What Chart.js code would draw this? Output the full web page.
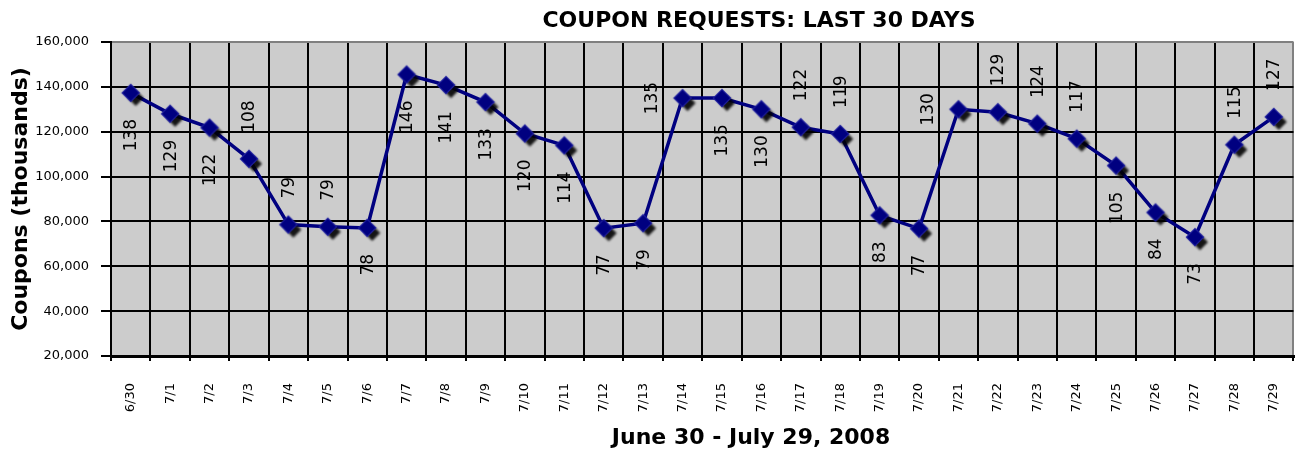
<!DOCTYPE html>
<html>
<head>
<meta charset="utf-8">
<title>Coupon requests</title>
<script src="https://cdn.jsdelivr.net/npm/chart.js@4.4.0/dist/chart.umd.min.js"></script>
<style>
  html, body { margin: 0; padding: 0; background: #fff; }
  #wrap { width: 1307px; height: 453px; }
</style>
</head>
<body>
<div id="wrap"><canvas id="couponChart" width="1307" height="453"></canvas></div>
<script>
// days on the x axis
const days = ['6/30', '7/1', '7/2', '7/3', '7/4', '7/5', '7/6', '7/7', '7/8', '7/9',
  '7/10', '7/11', '7/12', '7/13', '7/14', '7/15', '7/16', '7/17', '7/18', '7/19',
  '7/20', '7/21', '7/22', '7/23', '7/24', '7/25', '7/26', '7/27', '7/28', '7/29'];

// coupon requests per day
const coupons = [137300, 128000, 121800, 107900, 78600, 77600, 77100, 145500, 140800, 133200,
  119200, 113900, 77000, 79200, 135000, 135000, 130000, 122000, 119000, 82700,
  76800, 130000, 128700, 123600, 116900, 104900, 84000, 73000, 114200, 126600];

// data label texts, in thousands, as printed on the chart
const valueLabels = [138, 129, 122, 108, 79, 79, 78, 146, 141, 133,
  120, 114, 77, 79, 135, 135, 130, 122, 119, 83,
  77, 130, 129, 124, 117, 105, 84, 73, 115, 127];

// y axis range
const yMin = 20000;
const yMax = 160000;
const yStep = 20000;

const chartTitle = 'COUPON REQUESTS: LAST 30 DAYS';
const xTitle = 'June 30 - July 29, 2008';
const yTitle = 'Coupons (thousands)';

// where each data label sits relative to its point
const labelPlacement = ['below', 'below', 'below', 'above', 'above', 'above', 'below', 'below', 'below', 'below',
  'below', 'below', 'below', 'below', 'left', 'below', 'below', 'above', 'above', 'below',
  'below', 'left', 'above', 'above', 'above', 'below', 'below', 'below', 'above', 'above'];

const FONT = '"DejaVu Sans", Verdana, sans-serif';
const NAVY = '#000080';
const PLOT_BG = '#cccccc';
const EDGE_GRAY = '#808080';

function makeMarker() {
  const c = document.createElement('canvas');
  c.width = 40;
  c.height = 40;
  const g = c.getContext('2d');
  const diamond = (cx, cy, r) => {
    g.beginPath();
    g.moveTo(cx, cy - r);
    g.lineTo(cx + r, cy);
    g.lineTo(cx, cy + r);
    g.lineTo(cx - r, cy);
    g.closePath();
    g.fill();
  };
  // drop shadow
  g.save();
  g.filter = 'blur(1.2px)';
  g.fillStyle = 'rgba(0,0,0,0.9)';
  diamond(25, 25, 8);
  g.restore();
  // marker
  g.save();
  g.filter = 'blur(0.6px)';
  g.fillStyle = '#2222a0';
  diamond(20, 20, 9.5);
  g.restore();
  g.fillStyle = NAVY;
  diamond(20, 20, 8);
  return c;
}

const plotBackground = {
  id: 'plotBackground',
  beforeDraw(chart) {
    const { ctx, chartArea: a } = chart;
    ctx.save();
    ctx.fillStyle = PLOT_BG;
    ctx.fillRect(a.left, a.top, a.right - a.left, a.bottom - a.top);
    ctx.restore();
  }
};

const pointLabels = {
  id: 'pointLabels',
  beforeDatasetsDraw(chart) {
    const { ctx, chartArea: a } = chart;
    const meta = chart.getDatasetMeta(0);
    const gap = 26;
    ctx.save();
    ctx.beginPath();
    ctx.rect(a.left, a.top, a.right - a.left, a.bottom - a.top);
    ctx.clip();
    ctx.font = '17px ' + FONT;
    ctx.fillStyle = '#000';
    ctx.textAlign = 'center';
    ctx.textBaseline = 'middle';
    meta.data.forEach((pt, i) => {
      const text = String(valueLabels[i]);
      const len = ctx.measureText(text).width;
      let x = pt.x + 1;
      let y = pt.y;
      if (labelPlacement[i] === 'above') y -= gap + len / 2;
      else if (labelPlacement[i] === 'below') y += gap + len / 2;
      else x -= 31;
      ctx.save();
      ctx.translate(x, y);
      ctx.rotate(-Math.PI / 2);
      ctx.fillText(text, 0, 0);
      ctx.restore();
    });
    ctx.restore();
  }
};

const titles = {
  id: 'titles',
  afterDraw(chart) {
    const ctx = chart.ctx;
    ctx.save();
    ctx.fillStyle = '#000';
    ctx.textAlign = 'center';
    ctx.textBaseline = 'alphabetic';
    ctx.font = 'bold 22px ' + FONT;
    ctx.fillText(chartTitle, 759, 27);
    ctx.fillText(xTitle, 751, 444);
    ctx.restore();
  }
};

const ctx = document.getElementById('couponChart').getContext('2d');
new Chart(ctx, {
  type: 'line',
  data: {
    labels: days,
    datasets: [{
      label: 'Coupons',
      data: coupons,
      borderColor: NAVY,
      borderWidth: 3.5,
      tension: 0,
      pointStyle: makeMarker(),
      pointRadius: 10,
      clip: false
    }]
  },
  options: {
    responsive: false,
    animation: false,
    devicePixelRatio: 1,
    layout: { padding: { top: 42, right: 5, left: 0, bottom: 0 } },
    plugins: {
      legend: { display: false },
      tooltip: { enabled: false },
      title: { display: false }
    },
    scales: {
      x: {
        offset: true,
        afterFit(scale) {
          scale.height = 97;
          scale.paddingLeft = 0;
          scale.paddingRight = 0;
        },
        grid: {
          offset: true,
          color: c => (c.index === undefined ? EDGE_GRAY : '#000'),
          lineWidth: 2,
          tickLength: 5,
          tickColor: '#000',
          tickWidth: 2
        },
        border: { display: true, color: '#000', width: 3 },
        ticks: {
          autoSkip: false,
          minRotation: 90,
          maxRotation: 90,
          padding: 22,
          color: '#000',
          font: { family: FONT, size: 13 }
        }
      },
      y: {
        min: yMin,
        max: yMax,
        afterFit(scale) {
          scale.width = 111;
          scale.paddingTop = 0;
          scale.paddingBottom = 0;
        },
        grid: {
          color: c => (c.tick && c.tick.value === yMax ? EDGE_GRAY : '#000'),
          lineWidth: 2,
          tickLength: 10,
          tickColor: '#000',
          tickWidth: 2
        },
        border: { display: true, color: '#000', width: 2 },
        ticks: {
          stepSize: yStep,
          padding: 12,
          color: '#000',
          font: { family: FONT, size: 13 },
          callback: v => v.toLocaleString('en-US')
        },
        title: {
          display: true,
          text: yTitle,
          color: '#000',
          padding: { top: 8, bottom: 0 },
          font: { family: FONT, size: 22, weight: 'bold' }
        }
      }
    }
  },
  plugins: [plotBackground, pointLabels, titles]
});
</script>
</body>
</html>
